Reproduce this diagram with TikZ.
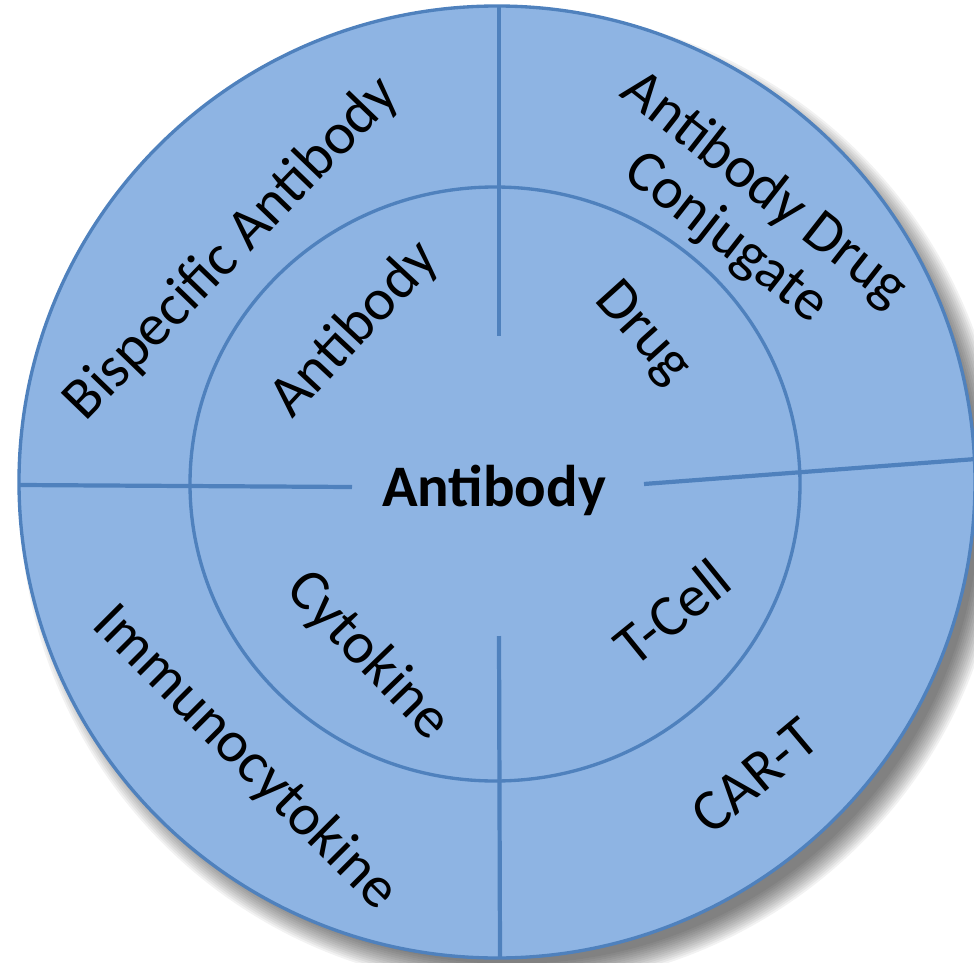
\documentclass[tikz,border=0pt]{standalone}
\usepackage{fontspec}
\setmainfont{Carlito}
\usepackage{tikz}
\usetikzlibrary{positioning}
\definecolor{ringfill}{RGB}{142,180,227}
\definecolor{ringline}{RGB}{79,129,189}

\begin{document}
\begin{tikzpicture}
  [x=0.02cm,y=-0.02cm,
   lbl/.style={inner sep=0pt,font=\fontsize{33.5}{35}\selectfont},
   split/.style={draw=ringline,line width=2.4pt}]

  \clip (0,0) rectangle (974,963);
  \foreach \k in {0,2,...,24}
    \fill[black,opacity=0.05] (512,499) ellipse [x radius=468+\k, y radius=465+\k];
  \draw[fill=ringfill,draw=ringline,line width=1.9pt] (497,482) ellipse [x radius=478, y radius=476];
  \draw[draw=ringline,line width=1.9pt] (495,484) ellipse [x radius=305, y radius=297];

  \node[lbl,font=\fontsize{33.5}{35}\selectfont\bfseries] (core) at (494,490) {Antibody};
  \node[lbl,rotate=46] (bispec) at (232,249) {Bispecific Antibody};
  \node[lbl,rotate=47] (ab) at (355,330) {Antibody};
  \node[lbl,rotate=-38,align=center] (adc) at (745,214) {Antibody Drug\\Conjugate};
  \node[lbl,rotate=-48] (drug) at (642,334) {Drug};
  \node[lbl,rotate=-45] (immuno) at (245,758) {Immunocytokine};
  \node[lbl,rotate=-46] (cyto) at (368,656) {Cytokine};
  \node[lbl,rotate=39] (tcell) at (672,612) {T-Cell};
  \node[lbl,rotate=40] (cart) at (755,776) {CAR-T};

  \coordinate (t1) at (499,7);
  \coordinate (t2) at (499,336);
  \coordinate (l1) at (19,485);
  \coordinate (l2) at (352,487);
  \coordinate (r1) at (644,484);
  \coordinate (r2) at (976,459);
  \coordinate (b1) at (499,636);
  \coordinate (b2) at (500,958);
  \foreach \from/\to in {t1/t2,l1/l2,r1/r2,b1/b2}
    \draw[split] (\from) -- (\to);
\end{tikzpicture}
\end{document}
